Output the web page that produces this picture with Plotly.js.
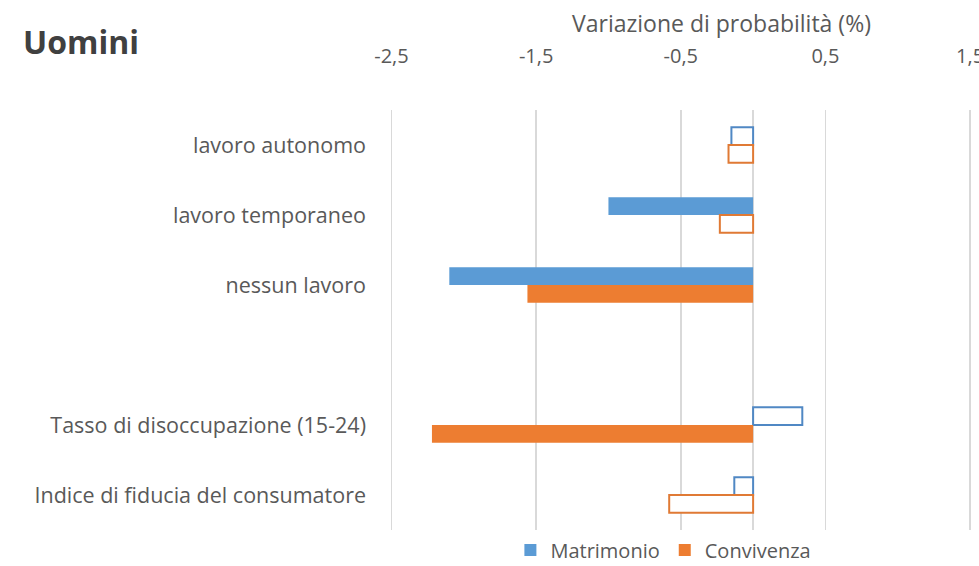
<!DOCTYPE html>
<html>
<head>
<meta charset="utf-8">
<script src="https://cdn.plot.ly/plotly-3.0.1.min.js"></script>
<style>html,body{margin:0;padding:0;background:#fff;}#chart{width:979px;height:566px;}</style>
</head>
<body>
<div id="chart"></div>
<script>
// Categories (top to bottom); " " is an empty spacer row
const categories = ["lavoro autonomo", "lavoro temporaneo", "nessun lavoro", " ", "Tasso di disoccupazione (15-24)", "Indice di fiducia del consumatore"];
// Variazione di probabilità (%)
const matrimonio = [-0.15, -1.00, -2.10, null, 0.34, -0.13];
const convivenza = [-0.17, -0.23, -1.56, null, -2.22, -0.58];
// true = filled bar, false = outlined bar
const matrimonioSig = [false, true, true, null, false, false];
const convivenzaSig = [false, false, true, null, true, false];
const xTickVals = [-2.5, -1.5, -0.5, 0.5, 1.5];
const xTickText = ["-2,5", "-1,5", "-0,5", "0,5", "1,5"];

const BLUE = '#5B9BD5', ORANGE = '#ED7D31';
const BLUE_LINE = '#5088C4', ORANGE_LINE = '#E07A35';
const pick = (vals, sig, want) => vals.map((v, i) => (sig[i] === want ? v : null));

function mk(name, vals, sig, filled, color, lineColor, group, showlegend) {
  return {
    type: 'bar', orientation: 'h', name: name,
    y: categories, x: pick(vals, sig, filled),
    offsetgroup: group, legendgroup: group, showlegend: showlegend,
    marker: filled ? {color: color, line: {width: 0}} : {color: 'rgba(255,255,255,1)', line: {color: lineColor, width: 2}},
    hoverinfo: 'x+name'
  };
}

const data = [
  mk('Matrimonio', matrimonio, matrimonioSig, true, BLUE, BLUE_LINE, 'M', true),
  mk('Matrimonio', matrimonio, matrimonioSig, false, BLUE, BLUE_LINE, 'M', false),
  mk('Convivenza', convivenza, convivenzaSig, true, ORANGE, ORANGE_LINE, 'C', true),
  mk('Convivenza', convivenza, convivenzaSig, false, ORANGE, ORANGE_LINE, 'C', false)
];

const FONT = 'Open Sans, sans-serif';
const ML = 389.5, MR = 6, MT = 110, MB = 36;
const pw = 979 - ML - MR, ph = 566 - MT - MB;
const layout = {
  width: 979, height: 566,
  margin: {l: ML, r: MR, t: MT, b: MB, autoexpand: false},
  paper_bgcolor: '#fff', plot_bgcolor: '#fff',
  barmode: 'group', bargap: 0.49, bargroupgap: 0,
  font: {family: FONT, color: '#595959', size: 21},
  xaxis: {
    side: 'top', range: [-2.51, 1.52], tickvals: xTickVals, ticktext: xTickText,
    showgrid: true, gridcolor: '#d9d9d9', gridwidth: 1.5,
    zeroline: true, zerolinecolor: '#d9d9d9', zerolinewidth: 1.5,
    showline: false, ticks: '', ticklabelstandoff: 42, ticklabeloverflow: 'allow',
    tickfont: {family: FONT, size: 20, color: '#595959'}
  },
  yaxis: {
    type: 'category', autorange: 'reversed', categoryorder: 'array', categoryarray: categories,
    showgrid: false, zeroline: false, showline: false, ticks: '', ticklabelstandoff: 23,
    tickfont: {family: FONT, size: 21.5, color: '#595959'}
  },
  legend: {
    orientation: 'h', xref: 'paper', x: (510 - ML) / pw, xanchor: 'left',
    y: -(550 - 530) / ph, yanchor: 'middle', font: {family: FONT, size: 20, color: '#595959'},
    traceorder: 'normal'
  },
  annotations: [
    {text: '<b>Uomini</b>', xref: 'paper', yref: 'paper', x: (20 - ML) / pw, y: 1 + (MT - 42) / ph,
     xanchor: 'left', yanchor: 'middle', showarrow: false, font: {family: FONT, size: 32, color: '#404040'}},
    {text: 'Variazione di probabilità (%)', xref: 'paper', yref: 'paper', x: (721 - ML) / pw, y: 1 + (MT - 23) / ph,
     xanchor: 'center', yanchor: 'middle', showarrow: false, font: {family: FONT, size: 23, color: '#595959'}}
  ],
  showlegend: true
};

Plotly.newPlot('chart', data, layout, {displayModeBar: false, staticPlot: true});
</script>
</body>
</html>
